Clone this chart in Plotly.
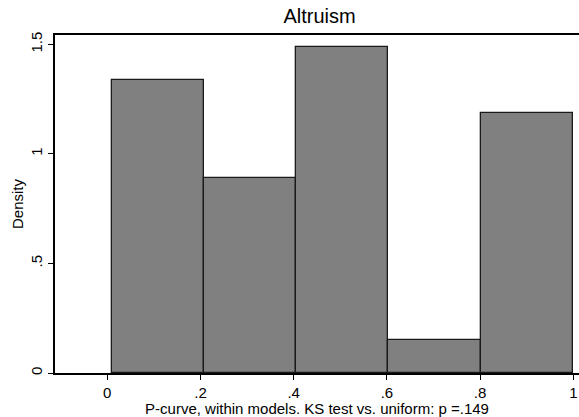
import plotly.graph_objects as go

# Data
bin_edges = [0.0094, 0.2073, 0.4052, 0.6031, 0.8010, 0.9989]
density = [1.337, 0.892, 1.486, 0.149, 1.189]
x_tickvals = [0, 0.2, 0.4, 0.6, 0.8, 1]
x_ticktext = ["0", ".2", ".4", ".6", ".8", "1"]
y_tickvals = [0, 0.5, 1, 1.5]
y_ticktext = ["0", ".5", "1", "1.5"]

centers = [(a + b) / 2 for a, b in zip(bin_edges[:-1], bin_edges[1:])]
widths = [b - a for a, b in zip(bin_edges[:-1], bin_edges[1:])]

FONT = "Liberation Sans, Arial, sans-serif"

fig = go.Figure(go.Bar(
    x=centers, y=density, width=widths,
    marker=dict(color="#808080", line=dict(color="#1a1a1a", width=1.3)),
))

fig.update_layout(
    width=579, height=417,
    margin=dict(l=55, r=0, t=35, b=44),
    paper_bgcolor="white", plot_bgcolor="white",
    showlegend=False,
    font=dict(family=FONT, color="black", size=15),
    title=dict(text="Altruism", x=0.505, xref="paper", xanchor="center",
               y=1, yref="container", yanchor="top", pad=dict(t=9),
               font=dict(family=FONT, size=20, color="black")),
    bargap=0,
)

fig.update_xaxes(
    range=[-0.1122, 1.0122], tickvals=x_tickvals, ticktext=x_ticktext,
    ticks="outside", ticklen=5, tickcolor="black", tickwidth=1,
    showline=True, linecolor="black", linewidth=1.5, mirror=True,
    showgrid=False, zeroline=False,
    tickfont=dict(family=FONT, size=15),
    title=dict(text="P-curve, within models. KS test vs. uniform: p =.149",
               font=dict(family=FONT, size=15), standoff=0),
)

fig.update_yaxes(
    range=[0, 1.543], tickvals=y_tickvals, ticktext=y_ticktext,
    ticks="outside", ticklen=5, tickcolor="black", tickwidth=1,
    tickangle=-90,
    showline=True, linecolor="black", linewidth=1.5,
    showgrid=False, zeroline=False,
    tickfont=dict(family=FONT, size=15),
    title=dict(text="Density", font=dict(family=FONT, size=15), standoff=1),
)

fig.write_html("out.html")
